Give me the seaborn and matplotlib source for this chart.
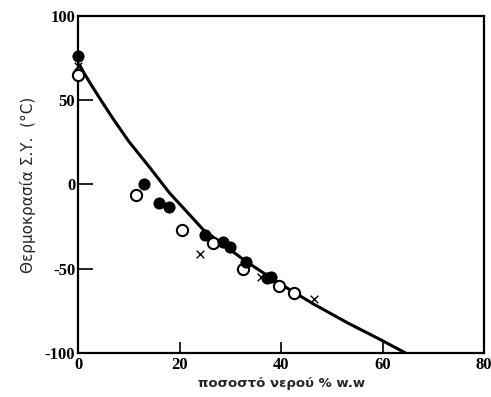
import matplotlib
matplotlib.use("Agg")
import matplotlib.pyplot as plt
import numpy as np
import pandas as pd
import seaborn as sns

# fitted curve
curve_x = [0.3, 1, 2.5, 4.5, 7, 10, 14, 18, 21.5, 24.7, 28.5, 33, 38, 42, 46.4, 53, 59.5, 64.5]
curve_y = [71, 67, 59.5, 50, 38.5, 25.5, 10.5, -5, -16.5, -27, -35.5, -45.5, -55.5, -63, -71, -82, -92, -100]

# measured points
filled_x = [0, 13, 16, 18, 25, 28.5, 30, 33, 37.2, 38]
filled_y = [76, 0, -11, -13.5, -30, -34, -37, -46, -55.5, -55]
open_x = [0, 11.5, 20.5, 26.5, 32.5, 39.5, 42.5]
open_y = [65, -6, -27, -35, -50, -60, -64.5]
cross_x = [0, 24, 36, 46.5]
cross_y = [70, -41, -55, -68]

x_ticks = [0, 20, 40, 60, 80]
y_ticks = [-100, -50, 0, 50, 100]

sns.set_style("ticks")
plt.rcParams['font.family'] = ['Liberation Serif', 'DejaVu Serif']
plt.rcParams['axes.unicode_minus'] = False

fig = plt.figure(figsize=(4.91, 3.97), dpi=100)
ax = fig.add_axes([0.159, 0.111, 0.827, 0.849])

curve = pd.DataFrame({'x': curve_x, 'y': curve_y})
sns.lineplot(data=curve, x='x', y='y', color='black', linewidth=2.2, ax=ax, zorder=2)

kw = dict(ax=ax, clip_on=False, legend=False)
sns.scatterplot(x=cross_x, y=cross_y, marker='x', s=30, color='black',
                linewidth=1.0, zorder=3, **kw)
sns.scatterplot(x=open_x, y=open_y, marker='o', s=65, facecolor='white',
                edgecolor='black', linewidth=1.5, zorder=4, **kw)
sns.scatterplot(x=filled_x, y=filled_y, marker='o', s=65, color='black',
                edgecolor='black', zorder=5, **kw)

ax.set_xlim(0, 80)
ax.set_ylim(-100, 100)
ax.set_xticks(x_ticks)
ax.set_yticks(y_ticks)
ax.tick_params(axis='both', direction='in', width=1.2, labelsize=12, colors='black')
ax.tick_params(axis='x', length=8, pad=3)
ax.tick_params(axis='y', length=11, pad=2)
for lab in ax.get_xticklabels() + ax.get_yticklabels():
    lab.set_fontweight('bold')
for s in ax.spines.values():
    s.set_linewidth(1.6)
    s.set_color('black')

ax.set_xlabel('ποσοστό νερού % w.w', fontsize=9.5, fontweight='bold',
              family=['DejaVu Sans'], labelpad=3)
ax.set_ylabel('Θερμοκρασία Σ.Υ.  (°C)', fontsize=11, family=['DejaVu Sans'],
              labelpad=6)

plt.savefig('out.png', dpi=100)
